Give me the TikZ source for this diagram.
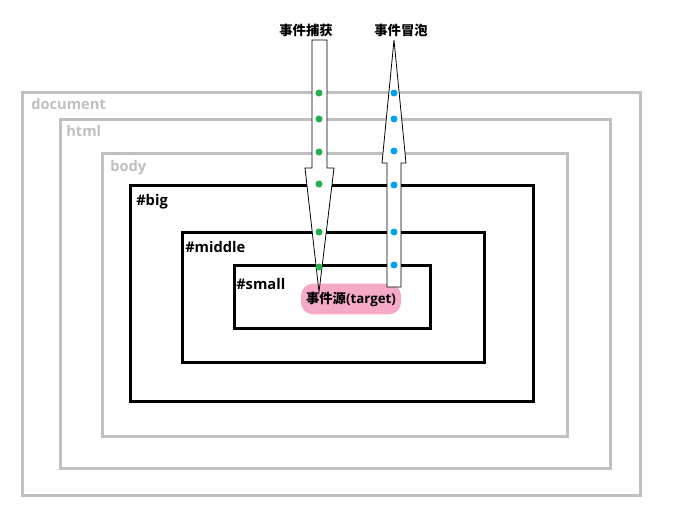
\documentclass[tikz,border=0pt]{standalone}
\usepackage{fontspec}
\setmainfont{Open Sans}
\newfontfamily\cjk{Noto Sans CJK SC}
\usetikzlibrary{positioning}
\definecolor{boxgray}{RGB}{192,192,192}
\definecolor{dotgreen}{RGB}{34,177,76}
\definecolor{dotblue}{RGB}{0,162,232}
\definecolor{srcpink}{RGB}{246,170,200}
\tikzset{
  outerbox/.style={boxgray,line width=2.25pt},
  innerbox/.style={black,line width=2.25pt},
  outerlabel/.style={boxgray,anchor=west,inner sep=0pt,font=\fontsize{11}{13}\selectfont\bfseries},
  innerlabel/.style={black,anchor=west,inner sep=0pt,font=\fontsize{11}{13}\selectfont\bfseries},
  blockarrow/.style={draw=black,fill=white,line width=0.6pt,line join=miter},
  capdot/.style={fill=dotgreen,draw=none},
  bubdot/.style={fill=dotblue,draw=none}
}
\begin{document}
\begin{tikzpicture}[x=0.75pt,y=-0.75pt]
  \useasboundingbox (0,0) rectangle (674,528);
  % nested boxes
  \draw[outerbox] (22,92) rectangle (640,495);
  \draw[outerbox] (60,119) rectangle (610,468);
  \draw[outerbox] (102,153) rectangle (567,436);
  \draw[innerbox] (130,185) rectangle (533,401);
  \draw[innerbox] (182,232) rectangle (484,362);
  \draw[innerbox] (234,265) rectangle (430,328);
  \node[outerlabel] (docname) at (31,104) {document};
  \node[outerlabel] (htmlname) at (66,131) {html};
  \node[outerlabel] (bodyname) at (110,168) {body};
  \node[innerlabel] (bigname) at (136,202) {\#big};
  \node[innerlabel] (middlename) at (185,247) {\#middle};
  \node[innerlabel] (smallname) at (236,284) {\#small};
  % event source
  \node[fill=srcpink,rounded corners=9pt,minimum width=75pt,minimum height=23pt,inner sep=0pt,
        font=\fontsize{10}{12}\selectfont\bfseries] (target) at (351,299) {{\cjk 事件源}(target)};
  % capture and bubble arrows
  \node[font=\cjk\fontsize{10}{12}\selectfont\bfseries] (capture) at (306,30) {事件捕获};
  \node[font=\cjk\fontsize{10}{12}\selectfont\bfseries] (bubble) at (401,30) {事件冒泡};
  \draw[blockarrow] (312,40) -- (327,40) -- (327,168) -- (334,168) -- (319,292)
    -- (305,168) -- (312,168) -- cycle;
  \draw[blockarrow] (387,287) -- (401,287) -- (401,163) -- (406,163) -- (394,40)
    -- (382,163) -- (387,163) -- cycle;
  \foreach \y in {93,119,152,184,232,267}
    \fill[capdot] (319,\y) circle (3.5);
  \foreach \y in {93,119,151,185,232,265}
    \fill[bubdot] (394,\y) circle (3.5);
\end{tikzpicture}
\end{document}
